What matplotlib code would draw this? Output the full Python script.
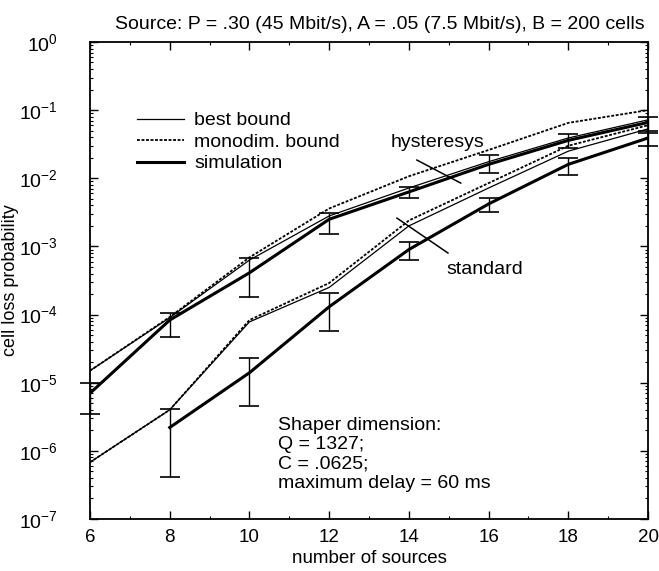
import matplotlib
matplotlib.use("Agg")
import matplotlib.pyplot as plt
from matplotlib.ticker import LogLocator, MultipleLocator, NullFormatter

plt.rcParams["font.family"] = ["Liberation Sans", "DejaVu Sans"]
plt.rcParams["mathtext.default"] = "regular"
plt.rcParams["axes.unicode_minus"] = False

# number of sources on the x axis
n_sources = [6, 8, 10, 12, 14, 16, 18, 20]

# hysteresys shaper
hyst_best = [1.5e-5, 9.0e-5, 6.3e-4, 2.8e-3, 7.2e-3, 1.75e-2, 3.9e-2, 7.2e-2]
hyst_mono = [1.5e-5, 9.2e-5, 6.9e-4, 3.6e-3, 1.07e-2, 2.6e-2, 6.5e-2, 1.0e-1]
hyst_sim = [7.0e-6, 8.3e-5, 4.1e-4, 2.5e-3, 6.3e-3, 1.6e-2, 3.6e-2, 6.6e-2]
hyst_sim_lo = [3.5e-6, 4.7e-5, 1.8e-4, 1.5e-3, 5.1e-3, 1.2e-2, 2.75e-2, 5.0e-2]
hyst_sim_hi = [1.0e-5, 1.05e-4, 6.8e-4, 3.1e-3, 7.4e-3, 2.2e-2, 4.5e-2, 7.8e-2]

# standard shaper (simulation starts at 8 sources)
std_best = [6.8e-7, 4.0e-6, 7.8e-5, 2.5e-4, 2.0e-3, 7.2e-3, 2.5e-2, 5.3e-2]
std_mono = [6.8e-7, 4.0e-6, 8.3e-5, 2.9e-4, 2.4e-3, 8.5e-3, 3.0e-2, 6.0e-2]
std_sim_x = [8, 10, 12, 14, 16, 18, 20]
std_sim = [2.2e-6, 1.4e-5, 1.3e-4, 9.0e-4, 4.2e-3, 1.6e-2, 3.9e-2]
std_sim_lo = [4.1e-7, 4.5e-6, 5.7e-5, 6.3e-4, 3.2e-3, 1.1e-2, 3.0e-2]
std_sim_hi = [4.1e-6, 2.3e-5, 2.1e-4, 1.15e-3, 5.1e-3, 2.0e-2, 4.6e-2]

# pointer strokes for the curve group labels
hyst_pointer_x = [14.2, 15.3]
hyst_pointer_y = [1.85e-2, 8.5e-3]
std_pointer_x = [13.7, 14.98]
std_pointer_y = [2.6e-3, 8.0e-4]

shaper_text = "Shaper dimension:\nQ = 1327;\nC = .0625;\nmaximum delay = 60 ms"


def errs(center, lo, hi):
    return [[c - l for c, l in zip(center, lo)], [h - c for c, h in zip(center, hi)]]


fig = plt.figure(figsize=(6.59, 5.71), dpi=100)
ax = fig.add_axes([0.1366, 0.0911, 0.8468, 0.8354])

thin = dict(color="black", linewidth=0.9)
dotted = dict(color="black", linewidth=1.3, linestyle=(0, (1.6, 0.9)))
thick = dict(color="black", linewidth=2.2)

ax.plot(n_sources, hyst_best, label="best bound", **thin)
ax.plot(n_sources, hyst_mono, label="monodim. bound", **dotted)
ax.plot(n_sources, hyst_sim, label="simulation", **thick)
ax.plot(n_sources, std_best, **thin)
ax.plot(n_sources, std_mono, **dotted)
ax.plot(std_sim_x, std_sim, **thick)

ax.errorbar(n_sources, hyst_sim, yerr=errs(hyst_sim, hyst_sim_lo, hyst_sim_hi),
            fmt="none", ecolor="black", elinewidth=1.0, capsize=7, capthick=1.2, clip_on=False)
ax.errorbar(std_sim_x, std_sim, yerr=errs(std_sim, std_sim_lo, std_sim_hi),
            fmt="none", ecolor="black", elinewidth=1.0, capsize=7, capthick=1.2, clip_on=False)

ax.plot(hyst_pointer_x, hyst_pointer_y, color="black", linewidth=1.1)
ax.plot(std_pointer_x, std_pointer_y, color="black", linewidth=1.1)
ax.text(13.55, 3.3e-2, "hysteresys", fontsize=14, va="center", ha="left")
ax.text(14.95, 4.6e-4, "standard", fontsize=14, va="center", ha="left")
ax.text(0.336, 0.214, shaper_text, transform=ax.transAxes, fontsize=14,
        va="top", ha="left", linespacing=1.17)

ax.set_yscale("log")
ax.set_xlim(6, 20)
ax.set_ylim(1e-7, 1e0)
ax.set_xticks([6, 8, 10, 12, 14, 16, 18, 20])
ax.xaxis.set_minor_locator(MultipleLocator(1))
ax.yaxis.set_major_locator(LogLocator(base=10, numticks=10))
ax.yaxis.set_minor_locator(LogLocator(base=10, subs=range(2, 10), numticks=10))
ax.yaxis.set_minor_formatter(NullFormatter())

ax.tick_params(which="both", direction="in", top=True, right=True, labelsize=14)
ax.tick_params(axis="x", labelsize=13.5)
ax.tick_params(which="major", length=6, width=1.0)
ax.tick_params(which="minor", length=2.5, width=0.8)
ax.tick_params(axis="y", which="major", pad=23)
ax.tick_params(axis="x", which="major", pad=7)
for s in ax.spines.values():
    s.set_linewidth(1.3)

ax.set_xlabel("number of sources", fontsize=13.5, labelpad=3)
ax.set_ylabel("cell loss probability", fontsize=13, labelpad=0)
ax.set_title("Source: P = .30 (45 Mbit/s), A = .05 (7.5 Mbit/s), B = 200 cells",
             fontsize=14, pad=9, x=0.52)

ax.legend(loc="upper left", bbox_to_anchor=(0.07, 0.87), frameon=False, fontsize=14,
          handlelength=2.4, handletextpad=0.55, labelspacing=0.2, borderaxespad=0)

fig.savefig("out.png", dpi=100)
